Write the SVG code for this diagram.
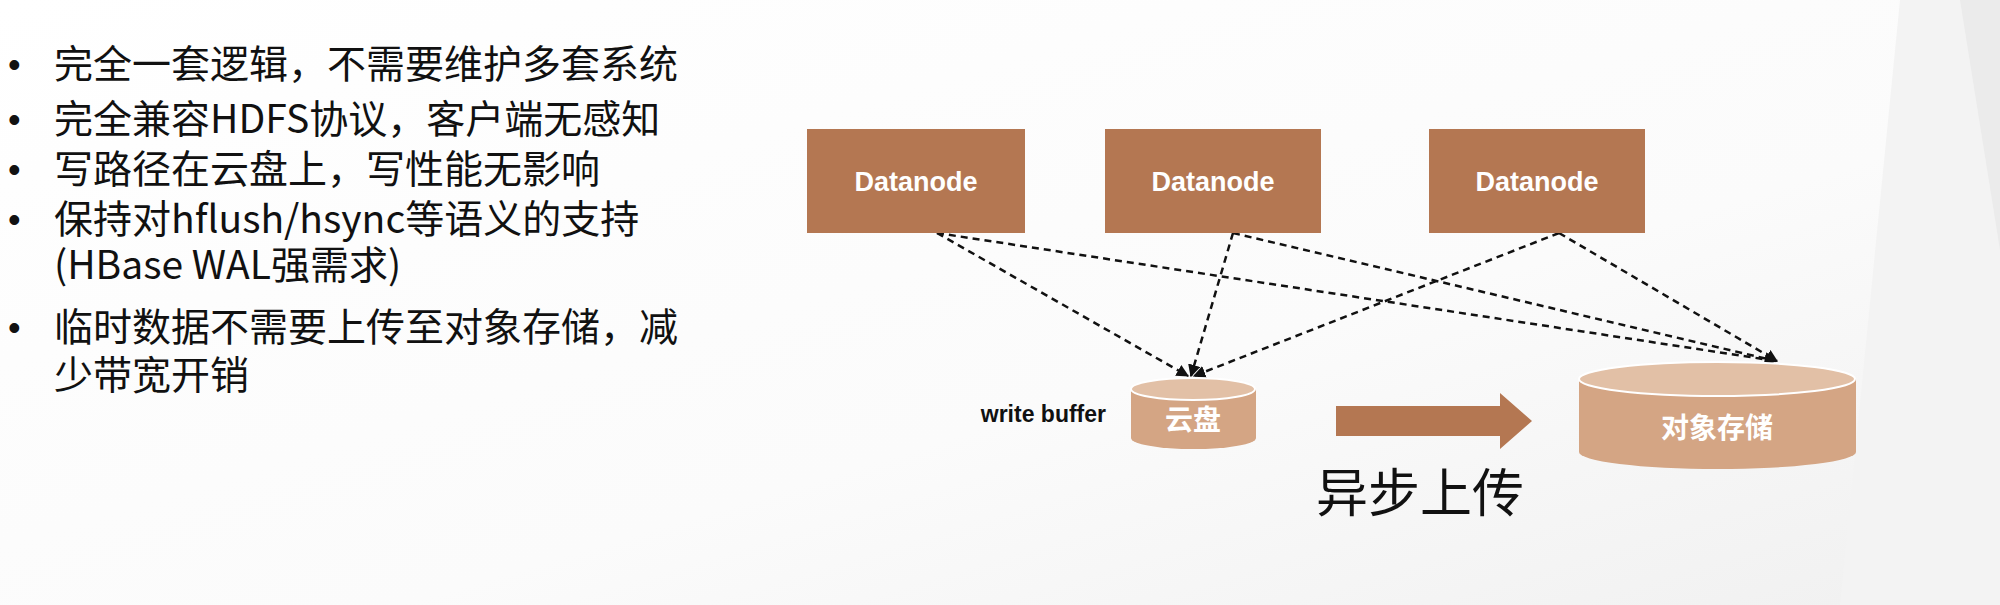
<svg xmlns="http://www.w3.org/2000/svg" width="2000" height="605" viewBox="0 0 2000 605">
<defs>
<style>
.t{font-family:"Noto Sans CJK SC","Liberation Sans",sans-serif;font-size:39px;fill:#111}
.b{font-family:"Liberation Sans",sans-serif;font-size:36px;fill:#111}
.dn{fill:#B47752}
.dl{font-family:"Liberation Sans",Arial,sans-serif;font-weight:bold;font-size:27px;fill:#fff;text-anchor:middle}
.cyl{fill:#D4A584}
.cylt{fill:#E2C0A6;stroke:#fff;stroke-width:2}
.cl{font-family:"Noto Sans CJK SC",sans-serif;font-weight:bold;font-size:28px;fill:#fff;text-anchor:middle}
.c{stroke:#111;stroke-width:2.5;stroke-dasharray:7,5;fill:none;marker-end:url(#ah)}
</style>
<marker id="ah" viewBox="0 0 10 10" refX="9" refY="5" markerWidth="5" markerHeight="5" orient="auto"><path d="M0,0L10,5L0,10z" fill="#111"/></marker>
<linearGradient id="bg" x1="0" y1="0" x2="1" y2="1"><stop offset="0" stop-color="#fff"/><stop offset="0.6" stop-color="#fbfbfb"/><stop offset="1" stop-color="#f0f0f0"/></linearGradient>
</defs>
<rect width="2000" height="605" fill="url(#bg)"/>
<polygon points="1900,0 2000,0 2000,605 1840,605" fill="#f3f3f3"/>
<polygon points="1960,0 2000,0 2000,250" fill="#ebebeb"/>
<g id="text">
<text class="b" x="8" y="77">•</text><text class="t" x="54" y="78">完全一套逻辑，不需要维护多套系统</text>
<text class="b" x="8" y="132">•</text><text class="t" x="54" y="133">完全兼容HDFS协议，客户端无感知</text>
<text class="b" x="8" y="182">•</text><text class="t" x="54" y="183">写路径在云盘上，写性能无影响</text>
<text class="b" x="8" y="232">•</text><text class="t" x="54" y="233">保持对hflush/hsync等语义的支持</text>
<text class="t" x="54" y="279">(HBase WAL强需求)</text>
<text class="b" x="8" y="340">•</text><text class="t" x="54" y="341">临时数据不需要上传至对象存储，减</text>
<text class="t" x="54" y="389">少带宽开销</text>
</g>
<g id="connectors">
<line class="c" x1="937" y1="233" x2="1188" y2="376"/>
<line class="c" x1="937" y1="233" x2="1776" y2="361"/>
<line class="c" x1="1233" y1="233" x2="1191" y2="376"/>
<line class="c" x1="1233" y1="233" x2="1776" y2="361"/>
<line class="c" x1="1559" y1="233" x2="1194" y2="376"/>
<line class="c" x1="1559" y1="233" x2="1777" y2="361"/>
</g>
<g id="dn1"><rect class="dn" x="807" y="129" width="218" height="104"/><text class="dl" x="916" y="191">Datanode</text></g>
<g id="dn2"><rect class="dn" x="1105" y="129" width="216" height="104"/><text class="dl" x="1213" y="191">Datanode</text></g>
<g id="dn3"><rect class="dn" x="1429" y="129" width="216" height="104"/><text class="dl" x="1537" y="191">Datanode</text></g>
<g id="yunpan">
<path class="cyl" d="M1131,389 V438 A62,11 0 0 0 1256,438 V389 Z"/>
<ellipse class="cylt" cx="1193" cy="389" rx="62" ry="11"/>
<text class="cl" x="1193" y="430">云盘</text>
<text x="1106" y="422" font-family="Liberation Sans,Arial,sans-serif" font-weight="bold" font-size="23" fill="#111" text-anchor="end">write buffer</text>
</g>
<g id="arrow"><polygon points="1336,406 1500,406 1500,393 1532,421 1500,449 1500,436 1336,436" fill="#B47752"/>
<text x="1316" y="512" font-family="Noto Sans CJK SC,sans-serif" font-size="52" fill="#111">异步上传</text></g>
<g id="obj">
<path class="cyl" d="M1579,379 V452 A138,17 0 0 0 1856,452 V379 Z"/>
<ellipse class="cylt" cx="1717" cy="379" rx="138" ry="17"/>
<text class="cl" x="1717" y="438">对象存储</text>
</g>
</svg>
